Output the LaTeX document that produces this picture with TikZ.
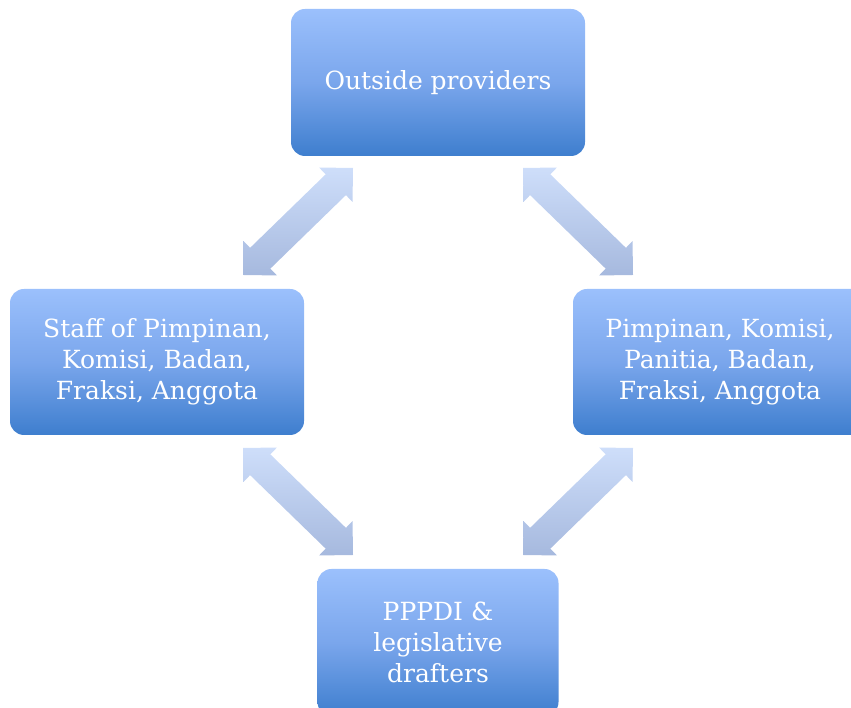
\documentclass[tikz,border=0pt]{standalone}
\usepackage{fontspec}
\setmainfont{DejaVu Serif}
\usetikzlibrary{calc}
\definecolor{boxtop}{RGB}{155,192,252}
\definecolor{boxmid}{RGB}{122,166,236}
\definecolor{boxbot}{RGB}{62,126,206}
\definecolor{arrtop}{RGB}{206,222,250}
\definecolor{arrbot}{RGB}{166,185,222}
\tikzset{
  unitbox/.style={rounded corners=14pt, top color=boxtop, bottom color=boxbot,
    middle color=boxmid, text=white, align=center, inner sep=0pt,
    font=\fontsize{25}{31}\selectfont},
  arrowfill/.style={top color=arrtop, bottom color=arrbot},
}
% double block arrow from #1 to #2
\newcommand{\dblarrow}[2]{%
  \path[arrowfill] (#1)
    -- ($(#1)!24pt!(#2)!24pt!90:(#2)$) -- ($(#1)!24pt!(#2)!14.5pt!90:(#2)$)
    -- ($(#2)!24pt!(#1)!14.5pt!-90:(#1)$) -- ($(#2)!24pt!(#1)!24pt!-90:(#1)$)
    -- (#2)
    -- ($(#2)!24pt!(#1)!24pt!90:(#1)$) -- ($(#2)!24pt!(#1)!14.5pt!90:(#1)$)
    -- ($(#1)!24pt!(#2)!14.5pt!-90:(#2)$) -- ($(#1)!24pt!(#2)!24pt!-90:(#2)$)
    -- cycle;}
\begin{document}
\begin{tikzpicture}[x=1pt, y=1pt]
  \useasboundingbox (0,0) rectangle (851,708);
  \node[unitbox, minimum width=294pt, minimum height=147pt] (outside) at (438,625.5) {Outside providers};
  \node[unitbox, minimum width=294pt, minimum height=146pt] (staff) at (157,346) {Staff of Pimpinan,\\Komisi, Badan,\\Fraksi, Anggota};
  \node[unitbox, minimum width=294pt, minimum height=146pt] (pimpinan) at (720,346) {Pimpinan, Komisi,\\Panitia, Badan,\\Fraksi, Anggota};
  \node[unitbox, minimum width=241pt, minimum height=147pt] (pppdi) at (438,65.5) {PPPDI \&\\legislative\\drafters};

  \coordinate (ul1) at (243,433);  \coordinate (ul2) at (353,540);
  \coordinate (ur1) at (523,540);  \coordinate (ur2) at (633,433);
  \coordinate (ll1) at (243,260);  \coordinate (ll2) at (353,153);
  \coordinate (lr1) at (523,153);  \coordinate (lr2) at (633,260);
  \dblarrow{ul1}{ul2}
  \dblarrow{ur1}{ur2}
  \dblarrow{ll1}{ll2}
  \dblarrow{lr1}{lr2}
\end{tikzpicture}
\end{document}
